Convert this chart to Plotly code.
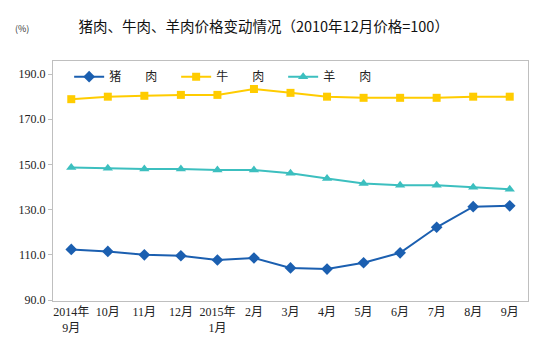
import plotly.graph_objects as go

categories = ["2014年<br>9月", "10月", "11月", "12月", "2015年<br>1月", "2月", "3月",
              "4月", "5月", "6月", "7月", "8月", "9月"]
pork = [112.4, 111.5, 110.0, 109.6, 107.7, 108.6, 104.2, 103.7, 106.5, 110.9, 122.2, 131.3, 131.7]
beef = [178.9, 180.0, 180.4, 180.8, 180.8, 183.4, 181.7, 180.0, 179.5, 179.5, 179.5, 180.0, 180.0]
lamb = [148.7, 148.3, 148.0, 148.0, 147.5, 147.5, 146.1, 143.8, 141.6, 140.8, 140.8, 139.9, 139.0]
series_names = ["猪　　肉", "牛　　肉", "羊　　肉"]
y_ticks = [90, 110, 130, 150, 170, 190]

x = list(range(len(categories)))
fig = go.Figure()
styles = [
    (pork, "#1b5fb0", "diamond", 9),
    (beef, "#ffcc00", "square", 8),
    (lamb, "#3cbfbf", "triangle-up", 9),
]
for (vals, color, sym, size), name in zip(styles, series_names):
    fig.add_trace(go.Scatter(
        x=x, y=vals, name=name, mode="lines+markers",
        line=dict(color=color, width=2),
        marker=dict(symbol=sym, size=size, color=color),
    ))

fig.update_layout(
    width=547, height=353,
    margin=dict(l=53, r=19, t=61, b=52),
    paper_bgcolor="white", plot_bgcolor="white",
    font=dict(family="Liberation Serif, Noto Sans CJK SC", size=12, color="#222"),
    title=dict(text="猪肉、牛肉、羊肉价格变动情况（2010年12月价格=100）",
               x=0.482, xanchor="center", y=0.925, yanchor="middle",
               font=dict(family="Noto Sans CJK SC", size=14.5, color="#111")),
    showlegend=True,
    legend=dict(orientation="h", x=0.034, y=0.995, xanchor="left", yanchor="top",
                entrywidth=62, entrywidthmode="pixels",
                font=dict(family="Noto Sans CJK SC", size=12, color="#222"),
                bgcolor="rgba(0,0,0,0)", traceorder="normal", itemwidth=30),
    annotations=[dict(text="(%)", xref="paper", yref="paper", x=-0.065, y=1.135,
                      xanchor="center", yanchor="middle", showarrow=False,
                      font=dict(family="Noto Sans CJK SC", size=9, color="#333"))],
)
fig.update_xaxes(
    range=[-0.5, 12.5], tickvals=x, ticktext=categories, tickangle=0,
    showgrid=False, zeroline=False, showline=True, mirror=True,
    linecolor="#bfbfbf", linewidth=1, ticks="",
    tickfont=dict(family="Liberation Serif, Noto Sans CJK SC", size=12, color="#222"),
)
fig.update_yaxes(
    range=[89.56, 195.8], tickvals=y_ticks, tickformat=".1f",
    showgrid=False, zeroline=False, showline=True, mirror=True,
    linecolor="#bfbfbf", linewidth=1, ticks="outside", ticklen=4, tickcolor="#bfbfbf",
    tickfont=dict(family="Liberation Serif", size=12, color="#222"),
)
fig.write_html("out.html")
